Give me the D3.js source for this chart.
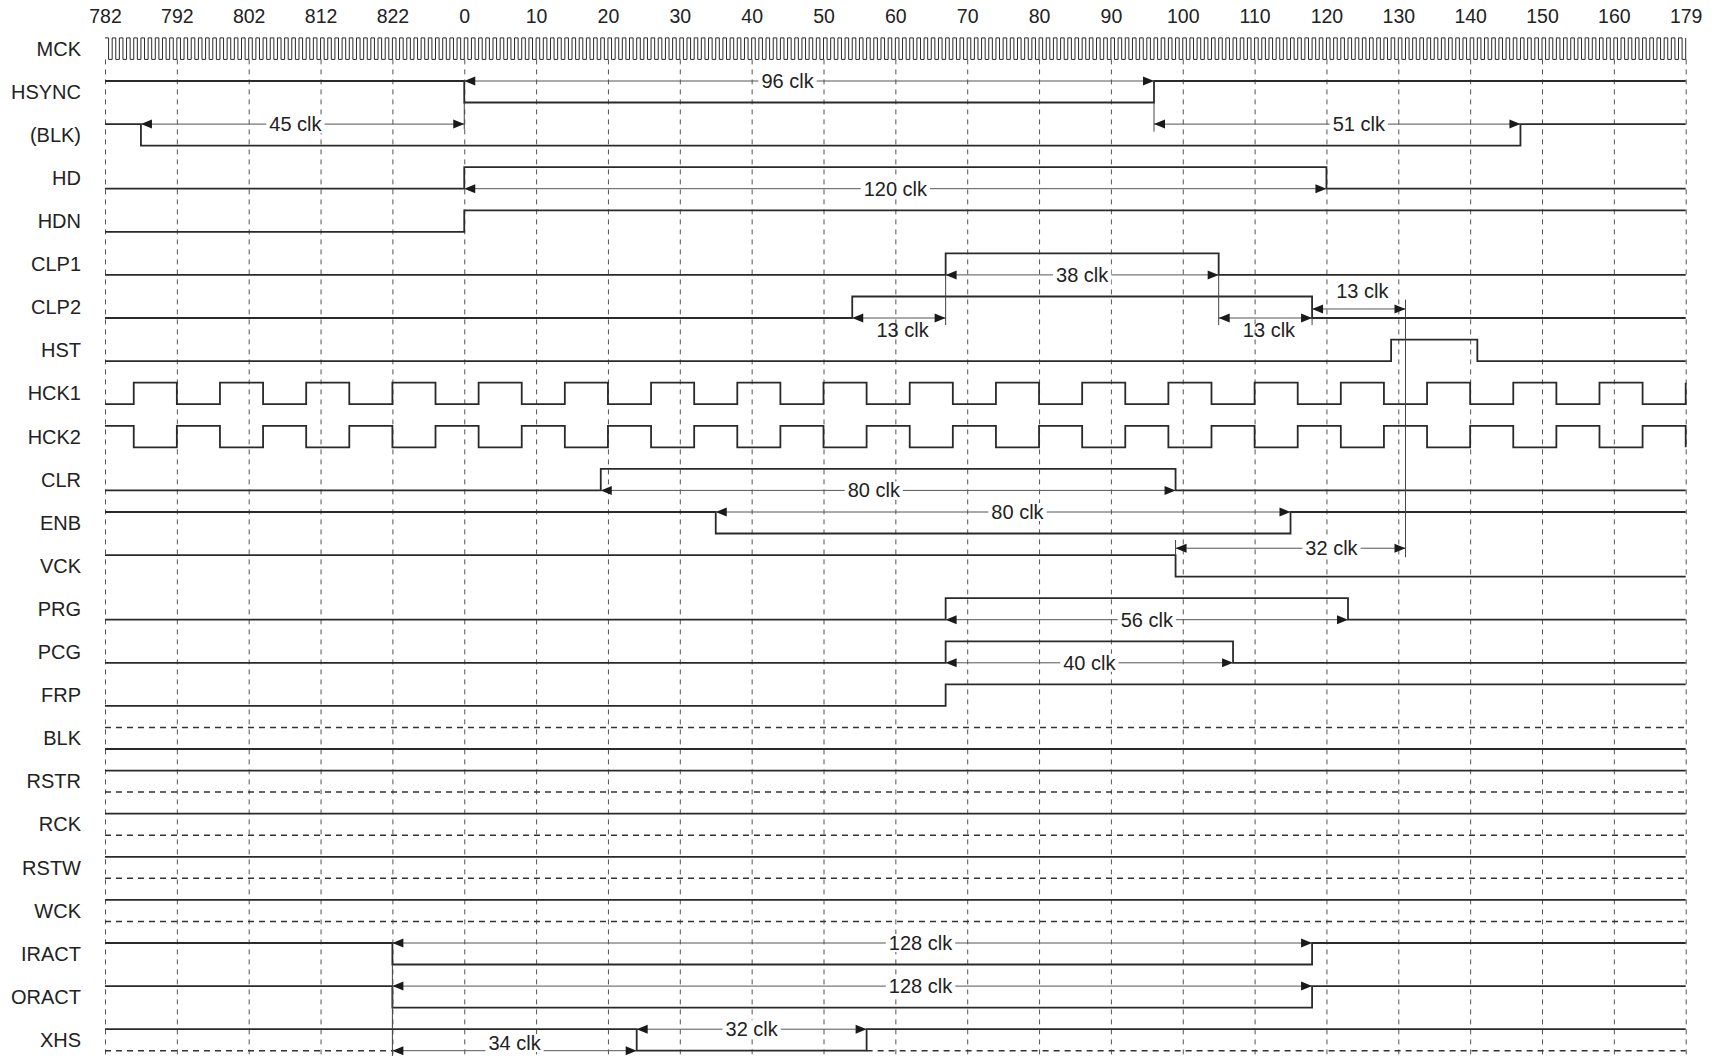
<!DOCTYPE html>
<html>
<head>
<meta charset="utf-8">
<script src="https://cdn.jsdelivr.net/npm/d3@7"></script>
<style>
  body { margin: 0; background: #fff; }
  text { font-family: "Liberation Sans", Arial, Helvetica, sans-serif; fill: #222; }
</style>
</head>
<body>
<svg id="timing-chart"></svg>
<script>
// clock positions of the dashed grid lines and the labels printed above them
const tickClocks = [-50, -40, -30, -20, -10, 0, 10, 20, 30, 40, 50, 60, 70, 80, 90, 100, 110, 120, 130, 140, 150, 160, 170];
const tickLabels = ["782", "792", "802", "812", "822", "0", "10", "20", "30", "40", "50", "60", "70", "80", "90", "100", "110", "120", "130", "140", "150", "160", "179"];

const signalNames = ["MCK", "HSYNC", "(BLK)", "HD", "HDN", "CLP1", "CLP2", "HST", "HCK1", "HCK2", "CLR", "ENB", "VCK", "PRG", "PCG", "FRP", "BLK", "RSTR", "RCK", "RSTW", "WCK", "IRACT", "ORACT", "XHS"];

// waveforms: [clock, level] transitions
const hsync = [[-50, 1], [0, 0], [96, 1]];
const blkParen = [[-50, 1], [-45, 0], [147, 1]];
const hd = [[-50, 0], [0, 1], [120, 0]];
const hdn = [[-50, 0], [0, 1]];
const clp1 = [[-50, 0], [67, 1], [105, 0]];
const clp2 = [[-50, 0], [54, 1], [118, 0]];
const hst = [[-50, 0], [129, 1], [141, 0]];
const hckEdges = [-46, -40, -34, -28, -22, -16, -10, -4, 2, 8, 14, 20, 26, 32, 38, 44, 50, 56, 62, 68, 74, 80, 86, 92, 98, 104, 110, 116, 122, 128, 134, 140, 146, 152, 158, 164, 170];
const clr = [[-50, 0], [19, 1], [99, 0]];
const enb = [[-50, 1], [35, 0], [115, 1]];
const vck = [[-50, 1], [99, 0]];
const prg = [[-50, 0], [67, 1], [123, 0]];
const pcg = [[-50, 0], [67, 1], [107, 0]];
const frp = [[-50, 0], [67, 1]];
const blk = [[-50, 0]];
const rstr = [[-50, 1]];
const rck = [[-50, 1]];
const rstw = [[-50, 1]];
const wck = [[-50, 1]];
const iract = [[-50, 1], [-10, 0], [118, 1]];
const oract = [[-50, 1], [-10, 0], [118, 1]];
const xhs = [[-50, 1], [24, 0], [56, 1]];

// dashed "other level" lines: [signal, level, from, to]
const dashedLines = [
  ["BLK", 1, -50, 170],
  ["RSTR", 0, -50, 170],
  ["RCK", 0, -50, 170],
  ["RSTW", 0, -50, 170],
  ["WCK", 0, -50, 170],
  ["XHS", 0, -50, -10],
  ["XHS", 0, 56, 170],
];

// dimension arrows: [signal, level, from, to, text, text at, placement]
const dimensions = [
  ["HSYNC", 1, 0, 96, "96 clk", 45, "inline"],
  ["(BLK)", 1, -45, 0, "45 clk", -23.5, "inline"],
  ["(BLK)", 1, 96, 147, "51 clk", 124.5, "inline"],
  ["HD", 0, 0, 120, "120 clk", 60, "inline"],
  ["CLP1", 0, 67, 105, "38 clk", 86, "inline"],
  ["CLP2", 0, 54, 67, "13 clk", 61, "below"],
  ["CLP2", 0, 105, 118, "13 clk", 112, "below"],
  ["CLP2", 0.42, 118, 131, "13 clk", 125, "above"],
  ["CLR", 0, 19, 99, "80 clk", 57, "inline"],
  ["ENB", 1, 35, 115, "80 clk", 77, "inline"],
  ["VCK", 1.32, 99, 131, "32 clk", 120.7, "inline"],
  ["PRG", 0, 67, 123, "56 clk", 95, "inline"],
  ["PCG", 0, 67, 107, "40 clk", 87, "inline"],
  ["IRACT", 1, -10, 118, "128 clk", 63.5, "inline"],
  ["ORACT", 1, -10, 118, "128 clk", 63.5, "inline"],
  ["XHS", 1, 24, 56, "32 clk", 40, "inline"],
  ["XHS", 0, -10, 24, "34 clk", 7, "inline"],
];

// thin vertical guides: [clock, signal, level, signal, level]
const guides = [
  [0, "HSYNC", 0, "(BLK)", 0.75],
  [96, "HSYNC", 0, "(BLK)", 0.65],
  [67, "CLP1", 0, "CLP2", -0.33],
  [105, "CLP1", 0, "CLP2", -0.33],
  [118, "CLP2", 0, "CLP2", -0.33],
  [131, "CLP2", 0.85, "VCK", 0.9],
  [99, "VCK", 1.7, "VCK", 1],
  [-10, "IRACT", 0, "XHS", -0.3],
];

// Dimensions
const totalWidth = 1724;
const totalHeight = 1056;
const amp = 21.5;
const fontSize = 20;

const hckTransitions = (startLevel) => {
  const t = [[-50, startLevel]];
  hckEdges.forEach((c, i) => t.push([c, i % 2 === 0 ? 1 - startLevel : startLevel]));
  return t;
};

const waveforms = {
  HSYNC: hsync, "(BLK)": blkParen, HD: hd, HDN: hdn, CLP1: clp1, CLP2: clp2, HST: hst,
  HCK1: hckTransitions(0), HCK2: hckTransitions(1), CLR: clr, ENB: enb, VCK: vck,
  PRG: prg, PCG: pcg, FRP: frp, BLK: blk, RSTR: rstr, RCK: rck, RSTW: rstw, WCK: wck,
  IRACT: iract, ORACT: oract, XHS: xhs,
};

///////////////////////////////////////////////////
//////////////// Set the Scales ///////////////////
///////////////////////////////////////////////////

const xScale = d3.scaleLinear().domain([tickClocks[0], tickClocks[tickClocks.length - 1]]).range([105, 1685.7]);
const rowScale = d3.scaleLinear().domain([0, signalNames.length - 1]).range([37.9, 1029.2]);
const levelScale = d3.scaleLinear().domain([0, 1]).range([amp, 0]);
const yPos = (name, level) => rowScale(signalNames.indexOf(name)) + levelScale(level);

const svg = d3.select("#timing-chart").attr("width", totalWidth).attr("height", totalHeight);
svg.append("rect").attr("width", totalWidth).attr("height", totalHeight).attr("fill", "#fff");

// top axis labels
const topAxis = svg
  .append("g")
  .attr("transform", "translate(0,26)")
  .call(d3.axisTop(xScale).tickValues(tickClocks).tickFormat((d, i) => tickLabels[i]).tickSize(0).tickPadding(3));
topAxis.select(".domain").remove();
topAxis.selectAll("text").attr("font-size", 19.5).attr("font-family", null).attr("fill", "#222");

// grid lines
const grid = svg
  .append("g")
  .attr("transform", "translate(0," + yPos("MCK", 0) + ")")
  .call(d3.axisBottom(xScale).tickValues(tickClocks).tickSize(totalHeight).tickFormat(""));
grid.select(".domain").remove();
grid.selectAll("line").attr("stroke", "#555").attr("stroke-width", 1).attr("stroke-dasharray", "5,5");

// signal names
svg
  .append("g")
  .selectAll("text")
  .data(signalNames)
  .enter()
  .append("text")
  .attr("x", 81)
  .attr("y", (d) => yPos(d, 0.5) + 7)
  .attr("text-anchor", "end")
  .attr("font-size", fontSize)
  .text((d) => d);

///////////////////////////////////////////////////
/////////////// Render the signals ////////////////
///////////////////////////////////////////////////

const lineFunction = d3.line().x((d) => xScale(d[0])).y((d) => d[1]);
const signals = svg.append("g").attr("fill", "none").attr("stroke", "#2a2a2a").attr("stroke-width", 1.8);

// master clock, one pulse per clock
const mckPoints = [];
d3.range(xScale.domain()[0], xScale.domain()[1]).forEach((c) => {
  mckPoints.push([c, yPos("MCK", 1)], [c + 0.5, yPos("MCK", 1)], [c + 0.5, yPos("MCK", 0)], [c + 1, yPos("MCK", 0)], [c + 1, yPos("MCK", 1)]);
});
signals.append("path").attr("stroke-width", 1).attr("d", lineFunction(mckPoints));

Object.keys(waveforms).forEach((name) => {
  const t = waveforms[name];
  const pts = [];
  t.forEach((d, i) => {
    if (i > 0) pts.push([d[0], yPos(name, t[i - 1][1])]);
    pts.push([d[0], yPos(name, d[1])]);
  });
  pts.push([xScale.domain()[1], yPos(name, t[t.length - 1][1])]);
  signals.append("path").attr("d", lineFunction(pts));
});

// dashed companion lines
svg
  .append("g")
  .selectAll("line")
  .data(dashedLines)
  .enter()
  .append("line")
  .attr("x1", (d) => xScale(d[2]))
  .attr("x2", (d) => xScale(d[3]))
  .attr("y1", (d) => yPos(d[0], d[1]))
  .attr("y2", (d) => yPos(d[0], d[1]))
  .attr("stroke", "#333")
  .attr("stroke-width", 1.5)
  .attr("stroke-dasharray", "6,5");

// guides
svg
  .append("g")
  .selectAll("line")
  .data(guides)
  .enter()
  .append("line")
  .attr("x1", (d) => xScale(d[0]))
  .attr("x2", (d) => xScale(d[0]))
  .attr("y1", (d) => yPos(d[1], d[2]))
  .attr("y2", (d) => yPos(d[3], d[4]))
  .attr("stroke", "#444")
  .attr("stroke-width", 1);

///////////////////////////////////////////////////
//////////////// Dimension arrows /////////////////
///////////////////////////////////////////////////

const dims = svg.append("g");
dimensions.forEach((d) => {
  const [name, level, from, to, label, at, place] = d;
  const y = yPos(name, level);
  const x0 = xScale(from);
  const x1 = xScale(to);
  dims.append("line").attr("x1", x0).attr("x2", x1).attr("y1", y).attr("y2", y).attr("stroke", "#555").attr("stroke-width", 1);
  dims.append("path").attr("d", `M${x0},${y}L${x0 + 11},${y - 4.5}L${x0 + 11},${y + 4.5}Z`).attr("fill", "#1a1a1a");
  dims.append("path").attr("d", `M${x1},${y}L${x1 - 11},${y - 4.5}L${x1 - 11},${y + 4.5}Z`).attr("fill", "#1a1a1a");

  let ty = place === "below" ? y + 19 : place === "above" ? y - 11 : y + 7;
  // keep the bottom label inside the picture
  ty = Math.min(ty, totalHeight - 6);
  const bg = dims.append("rect").attr("fill", "#fff");
  const txt = dims.append("text").attr("x", xScale(at)).attr("y", ty).attr("text-anchor", "middle").attr("font-size", fontSize).text(label);
  if (place === "inline") {
    const w = txt.node().getComputedTextLength();
    bg.attr("x", xScale(at) - w / 2 - 3).attr("y", ty - 16).attr("width", w + 6).attr("height", 18);
  } else {
    bg.remove();
  }
});
</script>
</body>
</html>
